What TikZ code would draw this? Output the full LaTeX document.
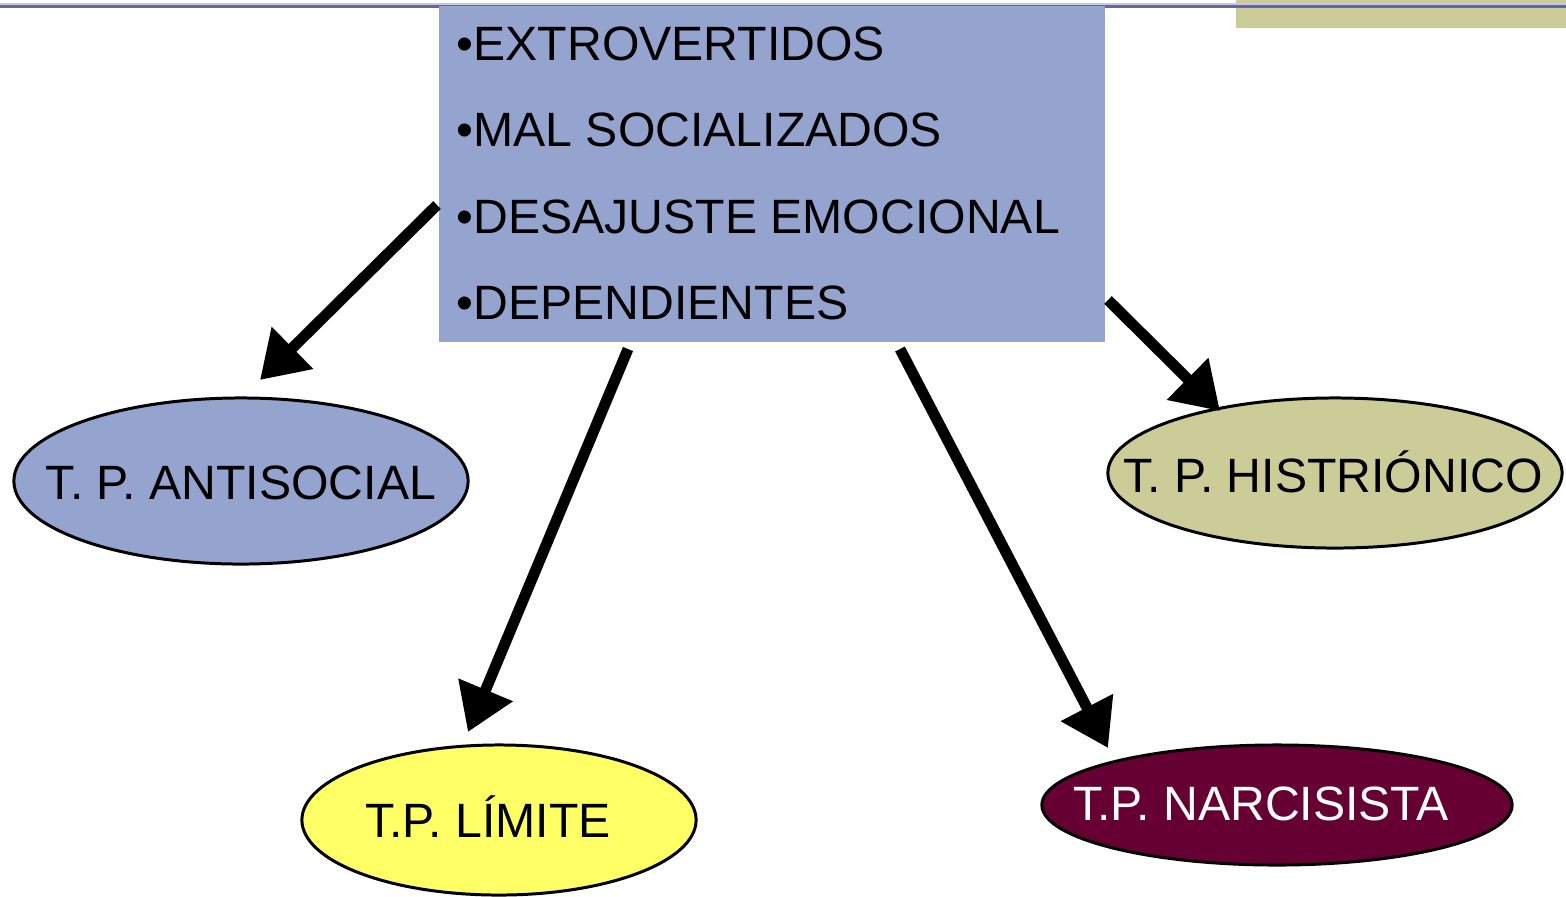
\documentclass[tikz,border=0pt]{standalone}
\usepackage{fontspec}
\setmainfont{Liberation Sans}
\usetikzlibrary{shapes.geometric,arrows.meta}
\definecolor{boxblue}{HTML}{95A3CF}
\definecolor{khaki}{HTML}{CCCC99}
\definecolor{lineblue}{HTML}{666699}
\definecolor{yel}{HTML}{FFFF66}
\definecolor{wine}{HTML}{660033}
\tikzset{
  oval/.style={ellipse,draw=black,line width=0.85pt,inner sep=0pt},
  ovaltext/.style={inner sep=0pt,font=\fontsize{13.7}{16}\selectfont},
  bigarrow/.style={line width=3.1pt,-{Triangle[length=13pt,width=16pt]}},
}
\begin{document}
\begin{tikzpicture}[x=0.01cm,y=-0.01cm]
\useasboundingbox (0,0) rectangle (1566,896);
% top decorations
\fill[khaki] (1236,0) rectangle (1566,28);
\draw[lineblue!35,line width=0.6pt] (0,4) -- (1566,4);
\draw[lineblue,line width=1pt] (0,6.5) -- (1566,6.5);
% main box
\node[fill=boxblue,minimum width=6.66cm,minimum height=3.36cm,inner sep=0pt,anchor=north west] (box) at (438,5) {};
\node[anchor=north west,align=left,inner sep=0pt,font=\fontsize{13.7}{24.6}\selectfont] (boxtext) at (456,26)
{•EXTROVERTIDOS\\•MAL SOCIALIZADOS\\•DESAJUSTE EMOCIONAL\\•DEPENDIENTES};
% ellipses
\node[oval,fill=boxblue,minimum width=4.54cm,minimum height=1.66cm,
  label={[ovaltext,yshift=-0.02cm]center:T. P. ANTISOCIAL}] (anti) at (241,481) {};
\node[oval,fill=khaki,minimum width=4.54cm,minimum height=1.50cm,
  label={[ovaltext,xshift=-0.02cm,yshift=0.01cm]center:T. P. HISTRIÓNICO}] (hist) at (1335,473) {};
\node[oval,fill=yel,minimum width=3.94cm,minimum height=1.50cm,
  label={[ovaltext,xshift=-0.11cm,yshift=0.03cm]center:T.P. LÍMITE}] (lim) at (499,820) {};
\node[oval,fill=wine,minimum width=4.70cm,minimum height=1.20cm,
  label={[ovaltext,xshift=-0.16cm,yshift=0.01cm,text=white]center:T.P. NARCISISTA}] (nar) at (1277,805) {};
% arrow endpoints
\coordinate (s1) at (437,205); \coordinate (e1) at (260,380);
\coordinate (s2) at (628,349); \coordinate (e2) at (468,732);
\coordinate (s3) at (900,349); \coordinate (e3) at (1108,748);
\coordinate (s4) at (1108,300); \coordinate (e4) at (1220,411);
\draw[bigarrow] (s1) -- (e1);
\draw[bigarrow] (s2) -- (e2);
\draw[bigarrow] (s3) -- (e3);
\draw[bigarrow] (s4) -- (e4);
\end{tikzpicture}
\end{document}
